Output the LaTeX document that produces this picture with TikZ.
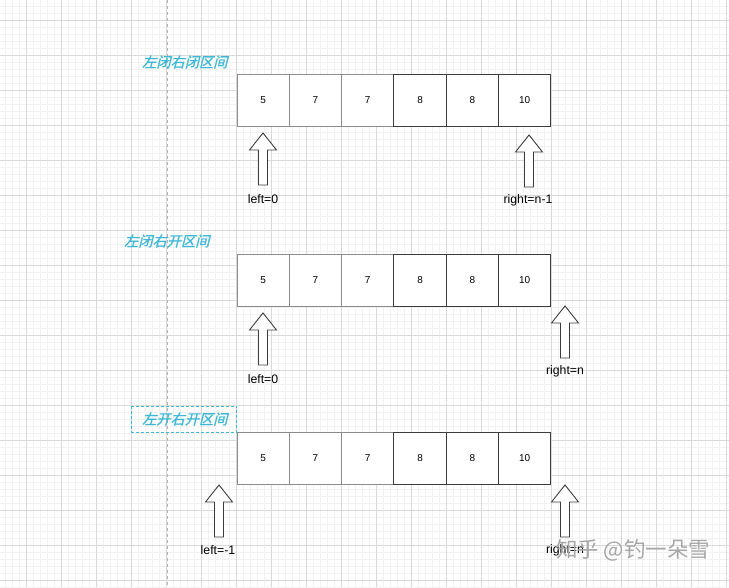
\documentclass[tikz,border=0pt]{standalone}
\usepackage{fontspec}
\setmainfont{Liberation Sans}
\newfontfamily\cjk{Noto Sans CJK SC}
\newfontfamily\cjkit[FakeSlant=0.25,FakeBold=1]{Noto Sans CJK SC}
\usepackage{tikz}
\usetikzlibrary{calc}
\definecolor{titlecyan}{RGB}{62,184,214}
\definecolor{cellgray}{RGB}{140,140,140}
\definecolor{celldark}{RGB}{60,60,60}
\tikzset{minorgrid/.style={draw=black!5,line width=0.6pt}, majorgrid/.style={draw=black!15,line width=0.8pt}, lightcell/.style={draw=cellgray,fill=white,line width=0.9pt,minimum width=52.3pt,minimum height=52pt,inner sep=0pt,font=\fontsize{10}{12}\selectfont}, darkcell/.style={lightcell,draw=celldark}, rangetitle/.style={text=titlecyan,font=\cjkit\fontsize{14.2}{16}\selectfont,inner sep=0pt}, ptrlabel/.style={font=\fontsize{12.3}{14}\selectfont,inner sep=0pt}, uparr/.pic={\draw[draw=celldark,fill=white,line width=0.9pt] (0,0) -- (13.5,17) -- (4.5,17) -- (4.5,52) -- (-4.5,52) -- (-4.5,17) -- (-13.5,17) -- cycle;}}

\begin{document}
\begin{tikzpicture}[x=1pt,y=-1pt]
\useasboundingbox (0,0) rectangle (729,587);
\fill[white] (0,0) rectangle (729,587);
% grid
\foreach \gx in {5,12,...,729} \draw[minorgrid] (\gx,0) -- (\gx,587);
\foreach \gy in {6,13,...,587} \draw[minorgrid] (0,\gy) -- (729,\gy);
\foreach \gx in {26,61,...,729} \draw[majorgrid] (\gx,0) -- (\gx,587);
\foreach \gy in {20,55,...,587} \draw[majorgrid] (0,\gy) -- (729,\gy);
\draw[black!30,dashed,line width=0.9pt] (167,0) -- (167,587);

% the three arrays
\foreach \row/\ty in {1/100,2/280,3/458}{
\foreach \val [count=\i] in {5,7,7,8,8,10}{
\ifnum\i<4
\node[lightcell] (r\row c\i) at ({237+52.3*(\i-0.5)},\ty) {\val};
\else
\node[darkcell] (r\row c\i) at ({237+52.3*(\i-0.5)},\ty) {\val};
\fi
}
}

% titles
\node[rangetitle,anchor=west] (t1) at (142,62) {左闭右闭区间};
\node[rangetitle,anchor=west] (t2) at (124,241) {左闭右开区间};
\node[rangetitle,anchor=west] (t3) at (142,419) {左开右开区间};
\draw[titlecyan,dash pattern=on 3pt off 2pt,line width=1pt] (131.5,406) rectangle (236.5,432);

% pointers
\pic at (263,133) {uparr};
\node[ptrlabel] (left1) at (263,199) {left=0};
\pic at (529,135) {uparr};
\node[ptrlabel] (right1) at (528,200) {right=n-1};

\pic at (263,313) {uparr};
\node[ptrlabel] (left2) at (263,379) {left=0};
\pic at (565,306) {uparr};
\node[ptrlabel] (right2) at (565,371) {right=n};

\pic at (219,485) {uparr};
\node[ptrlabel] (left3) at (218,550) {left=-1};
\pic at (565,485) {uparr};
\node[ptrlabel] (right3) at (565,550) {right=n};

% watermark
\node[text=black!35,font=\cjk\fontsize{21.5}{24}\selectfont,anchor=west,inner sep=0pt] (mark) at (556,550) {知乎 @钓一朵雪};
\end{tikzpicture}
\end{document}
